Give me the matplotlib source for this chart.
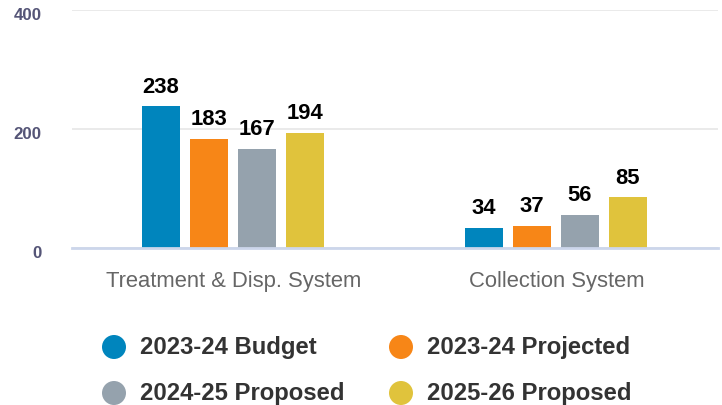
import matplotlib
matplotlib.use('Agg')
from matplotlib import pyplot as plt
from matplotlib import transforms
import numpy as np

plt.rcParams['font.family'] = ['Liberation Sans', 'DejaVu Sans']

categories = ['Treatment & Disp. System', 'Collection System']
series_names = ['2023-24 Budget', '2023-24 Projected', '2024-25 Proposed', '2025-26 Proposed']
budget_2324 = [238, 34]
projected_2324 = [183, 37]
proposed_2425 = [167, 56]
proposed_2526 = [194, 85]
colors = ['#0085bd', '#f78617', '#95a2ad', '#e0c33c']

series = [budget_2324, projected_2324, proposed_2425, proposed_2526]

fig = plt.figure(figsize=(7.22, 4.06), dpi=100)
ax = fig.add_axes([72/722, 1-249/406, 646/722, 238/406])

x = np.arange(len(categories))
width = 38/323
pitch = 48/323
for i, vals in enumerate(series):
    pos = x + (i - 1.5) * pitch - 1/323
    bars = ax.bar(pos, vals, width=width, color=colors[i], zorder=3)
    for b, v in zip(bars, vals):
        ax.annotate(str(v), (b.get_x() + b.get_width()/2, v), xytext=(0, 7),
                    textcoords='offset points', ha='center', va='bottom',
                    fontsize=15.8, fontweight='bold', color='black')

ax.set_xlim(-0.5, 1.5)
ax.set_ylim(0, 400)
ax.set_yticks([0, 200, 400])
ax.grid(axis='y', color='#e6e6e6', linewidth=1.2, zorder=0)
for s in ['top', 'right', 'left']:
    ax.spines[s].set_visible(False)
ax.spines['bottom'].set_color('#ccd6eb')
ax.spines['bottom'].set_linewidth(2)
ax.spines['bottom'].set_zorder(4)
ax.tick_params(axis='y', length=0, pad=22, labelsize=12.2, labelcolor='#555577')
ax.tick_params(axis='x', length=0, pad=16, labelsize=15.8, labelcolor='#666666')
ax.set_xticks(x)
ax.set_xticklabels(categories)
off = transforms.ScaledTranslation(0, -3/100, fig.dpi_scale_trans)
for lbl in ax.get_yticklabels():
    lbl.set_fontweight('bold')
    lbl.set_transform(lbl.get_transform() + off)

# legend drawn by hand in pixel coordinates
lax = fig.add_axes([0, 0, 1, 1])
lax.set_xlim(0, 722)
lax.set_ylim(406, 0)
lax.axis('off')
mx = [114, 401, 114, 401]
my = [348, 348, 394, 394]
for i, name in enumerate(series_names):
    lax.scatter(mx[i], my[i], s=24**2 * 0.72**2, color=colors[i], edgecolors='none')
    lax.text(mx[i] + 26, my[i], name, fontsize=17.2, fontweight='bold', color='#333333',
             va='center', ha='left')

plt.savefig('out.png', dpi=100)
